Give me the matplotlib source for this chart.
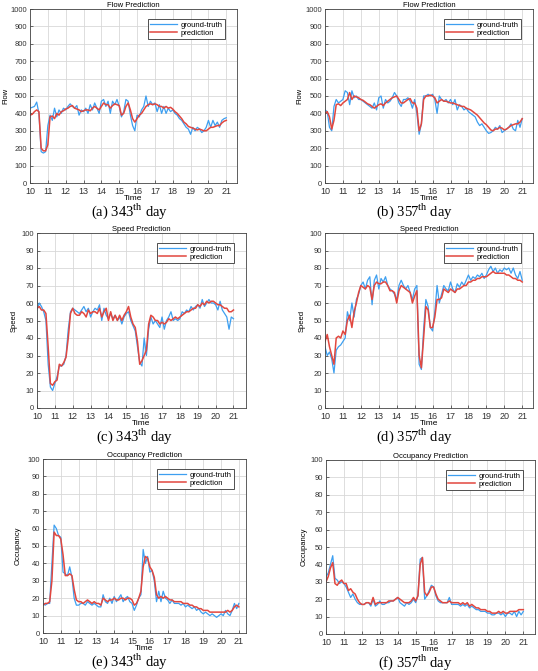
import numpy as np
import matplotlib
matplotlib.use("Agg")
import matplotlib.pyplot as plt

plt.rcParams['font.family'] = ['Liberation Sans', 'DejaVu Sans']
plt.rcParams['mathtext.fontset'] = 'custom'
plt.rcParams['mathtext.rm'] = 'Liberation Serif'

# values every 7.5 minutes, 10:00 .. 21:00
flow_343_true = [430, 435, 440, 465, 400, 180, 172, 180,
                 330, 390, 360, 430, 380, 420, 400, 430,
                 420, 440, 455, 440, 430, 445, 390, 420,
                 410, 430, 400, 450, 420, 460, 430, 400,
                 470, 480, 440, 470, 400, 470, 450, 480,
                 440, 380, 410, 480, 470, 390, 330, 300,
                 390, 380, 420, 440, 500, 440, 470, 450,
                 460, 410, 450, 400, 440, 400, 430, 410,
                 420, 400, 390, 370, 360, 340, 320, 310,
                 280, 320, 300, 320, 310, 290, 300, 320,
                 360, 320, 360, 330, 350, 320, 360, 370,
                 375]
flow_343_pred = [390, 395, 410, 420, 410, 200, 185, 185,
                 220, 380, 385, 370, 400, 390, 410, 415,
                 425, 430, 440, 445, 430, 425, 420, 410,
                 415, 420, 420, 415, 430, 440, 430, 420,
                 440, 460, 450, 450, 430, 445, 455, 450,
                 445, 390, 400, 440, 460, 420, 370, 350,
                 370, 390, 400, 420, 440, 450, 455, 450,
                 455, 450, 440, 440, 430, 440, 430, 435,
                 425, 410, 400, 385, 370, 350, 340, 325,
                 320, 315, 310, 305, 310, 305, 300, 300,
                 310, 320, 320, 325, 330, 330, 345, 355,
                 360]
flow_357_true = [420, 410, 320, 300, 440, 480, 460, 470,
                 480, 530, 520, 450, 530, 490, 500, 480,
                 480, 470, 460, 450, 440, 430, 460, 420,
                 490, 500, 430, 480, 460, 470, 490, 520,
                 500, 460, 440, 480, 480, 490, 470, 430,
                 480, 400, 280, 340, 500, 500, 510, 500,
                 510, 480, 400, 500, 480, 470, 480, 460,
                 480, 450, 480, 420, 450, 440, 420, 430,
                 410, 400, 390, 380, 350, 330, 340, 320,
                 300, 285, 290, 300, 320, 310, 330, 290,
                 300, 310, 320, 340, 310, 300, 360, 320,
                 370]
flow_357_pred = [400, 410, 380, 310, 360, 450, 455, 445,
                 460, 470, 480, 520, 480, 500, 495, 490,
                 480, 475, 465, 455, 450, 440, 430, 440,
                 450, 455, 445, 460, 470, 480, 490, 495,
                 500, 480, 460, 460, 470, 480, 485, 460,
                 460, 430, 300, 340, 480, 500, 500, 505,
                 500, 490, 460, 470, 480, 470, 470, 465,
                 460, 460, 455, 450, 445, 440, 440, 430,
                 425, 420, 410, 400, 390, 375, 360, 345,
                 335, 320, 305, 300, 310, 310, 320, 315,
                 305, 310, 320, 330, 335, 340, 340, 350,
                 370]

speed_343_true = [56, 60, 58, 55, 50, 25, 12, 10,
                  14, 18, 24, 24, 25, 30, 45, 55,
                  57, 56, 55, 54, 56, 58, 55, 57,
                  52, 55, 57, 56, 59, 50, 57, 53,
                  51, 54, 51, 53, 50, 52, 48, 52,
                  54, 55, 50, 47, 44, 35, 26, 24,
                  40, 30, 45, 52, 48, 50, 48, 46,
                  52, 45, 50, 52, 55, 50, 51, 50,
                  51, 55, 54, 56, 55, 58, 56, 58,
                  59, 57, 62, 58, 60, 62, 60, 60,
                  59, 56, 61, 56, 54, 52, 45, 52,
                  51]
speed_343_pred = [57, 58, 56, 56, 54, 35, 14, 13,
                  15, 16, 25, 24, 26, 29, 40, 54,
                  57, 54, 53, 53, 55, 54, 52, 56,
                  54, 55, 55, 54, 57, 52, 55, 57,
                  50, 55, 50, 53, 50, 53, 50, 53,
                  55, 58, 52, 48, 46, 38, 25, 27,
                  30, 33, 48, 53, 52, 50, 50, 48,
                  49, 48, 49, 51, 50, 51, 52, 51,
                  52, 53, 54, 55, 55, 56, 57, 57,
                  59, 58, 60, 59, 61, 60, 61, 61,
                  60, 59, 59, 58, 57, 57, 55, 55,
                  56]
speed_357_true = [35, 30, 32, 28, 20, 33, 35, 36,
                  38, 40, 55, 50, 60, 52, 62, 65,
                  70, 72, 68, 73, 75, 59, 73, 76,
                  68, 74, 72, 75, 70, 68, 67, 65,
                  62, 70, 73, 70, 68, 70, 66, 62,
                  68, 70, 25, 22, 45, 62, 58, 46,
                  44, 55, 70, 60, 65, 70, 68, 67,
                  72, 68, 66, 71, 69, 72, 70, 73,
                  76, 73, 75, 74, 76, 75, 77, 74,
                  76, 79, 81, 78, 80, 77, 79, 78,
                  80, 79, 80, 77, 80, 76, 74, 78,
                  73]
speed_357_pred = [38, 42, 35, 30, 25, 40, 41, 40,
                  44, 42, 50, 53, 46, 55, 60, 66,
                  70, 69, 68, 70, 69, 62, 70, 72,
                  71, 71, 72, 72, 70, 67, 67, 66,
                  60, 67, 70, 69, 68, 67, 66, 60,
                  64, 67, 30, 23, 40, 58, 56, 46,
                  46, 52, 62, 62, 63, 68, 67, 66,
                  68, 67, 66, 68, 68, 69, 70, 70,
                  72, 72, 73, 73, 74, 74, 75, 75,
                  75, 76, 77, 78, 77, 77, 77, 77,
                  77, 76, 76, 75, 74, 74, 73, 73,
                  72]

occ_343_true = [17, 16, 17, 17, 40, 62, 60, 56,
                55, 35, 34, 33, 38, 32, 20, 16,
                16, 17, 17, 16, 18, 17, 16, 17,
                16, 15, 15, 22, 18, 17, 20, 17,
                21, 18, 20, 22, 18, 20, 21, 18,
                17, 13, 16, 20, 22, 48, 40, 44,
                35, 36, 30, 18, 24, 18, 24, 20,
                19, 17, 19, 17, 17, 17, 16, 17,
                15, 16, 15, 14, 15, 13, 14, 12,
                11, 12, 11, 10, 11, 10, 9, 10,
                11, 10, 13, 11, 10, 13, 17, 14,
                17]
occ_343_pred = [16, 17, 17, 18, 30, 58, 56, 56,
                54, 45, 33, 33, 34, 33, 25, 19,
                18, 18, 17, 18, 19, 18, 17, 18,
                17, 17, 16, 20, 19, 18, 19, 19,
                20, 19, 19, 20, 20, 19, 20, 20,
                19, 16, 17, 20, 24, 38, 44, 43,
                38, 36, 32, 22, 20, 21, 20, 21,
                20, 19, 19, 18, 18, 18, 18, 17,
                17, 17, 16, 16, 15, 15, 14, 14,
                13, 13, 13, 12, 12, 12, 12, 12,
                12, 12, 12, 13, 12, 13, 15, 16,
                15]
occ_357_true = [33, 35, 40, 45, 32, 31, 29, 30,
                29, 27, 24, 21, 23, 20, 18, 17,
                17, 17, 18, 18, 16, 20, 16, 17,
                19, 17, 17, 18, 18, 19, 19, 20,
                21, 18, 17, 16, 18, 17, 18, 20,
                18, 22, 43, 44, 20, 22, 25, 28,
                27, 22, 19, 18, 18, 18, 18, 21,
                17, 17, 17, 17, 16, 17, 16, 17,
                15, 16, 15, 14, 14, 13, 13, 13,
                12, 12, 11, 11, 12, 12, 11, 12,
                10, 12, 12, 11, 13, 10, 13, 11,
                13]
occ_357_pred = [30, 33, 38, 41, 29, 28, 30, 31,
                29, 29, 25, 26, 24, 23, 20, 18,
                17, 17, 18, 18, 17, 21, 17, 18,
                18, 18, 18, 18, 19, 19, 19, 20,
                21, 20, 19, 18, 18, 18, 19, 21,
                19, 22, 40, 44, 24, 22, 24, 27,
                27, 23, 20, 19, 18, 18, 18, 19,
                18, 18, 18, 18, 17, 18, 17, 18,
                16, 17, 16, 15, 15, 14, 14, 14,
                13, 13, 12, 12, 12, 13, 12, 13,
                12, 12, 13, 13, 13, 13, 14, 14,
                14]

panels = [
    ("Flow Prediction", "Flow", flow_343_true, flow_343_pred, 1000, 100, "(a) 343", 21.6),
    ("Flow Prediction", "Flow", flow_357_true, flow_357_pred, 1000, 100, "(b) 357", 21.6),
    ("Speed Prediction", "Speed", speed_343_true, speed_343_pred, 100, 10, "(c) 343", 21.7),
    ("Speed Prediction", "Speed", speed_357_true, speed_357_pred, 100, 10, "(d) 357", 21.6),
    ("Occupancy Prediction", "Occupancy", occ_343_true, occ_343_pred, 100, 10, "(e) 343", 21.4),
    ("Occupancy Prediction", "Occupancy", occ_357_true, occ_357_pred, 100, 10, "(f) 357", 21.65),
]

# axes boxes in pixels: left, top, right, bottom, y-label centre x, caption centre x
boxes = [(30, 9, 237, 183, 6, 130), (325, 9, 533, 183, 300, 415),
         (37, 233, 246, 408, 15, 135), (325, 233, 533, 408, 303, 415),
         (43, 459, 246, 633, 19, 130), (326, 460, 535, 634, 305, 415)]

W, H = 538, 671
fig = plt.figure(figsize=(W / 100, H / 100), dpi=100)

blue = '#3d9ff0'
red = '#e2473f'

for (title, ylab, yt, yp, ymax, ystep, cap, xmax), (l, t, r, b, yl, cx) in zip(panels, boxes):
    ax = fig.add_axes([l / W, 1 - b / H, (r - l) / W, (b - t) / H])
    x_t = np.linspace(10, 21, len(yt))
    x_p = np.linspace(10, 21, len(yp))
    ax.plot(x_t, yt, color=blue, lw=0.9, label='ground-truth')
    ax.plot(x_p, yp, color=red, lw=1.1, label='prediction')
    ax.set_xlim(10, xmax)
    ax.set_ylim(0, ymax)
    ax.set_xticks(range(10, 22))
    ax.set_yticks(np.arange(0, ymax + 1, ystep))
    ax.grid(True, color='#d8d8d8', lw=0.6)
    ax.set_axisbelow(True)
    ax.tick_params(direction='in', length=2, width=0.5, labelsize=5.5, pad=2,
                   colors='#333333')
    ax.tick_params(axis='x', labelsize=6.5, pad=3)
    for s in ax.spines.values():
        s.set_linewidth(0.6)
        s.set_color('#444444')
    ax.set_title(title, fontsize=5.5, pad=1.5)
    ax.set_ylabel(ylab, fontsize=5.5)
    ax.yaxis.set_label_coords((yl + 3 - l) / (r - l), 0.5)
    ax.set_xlabel('Time', fontsize=6, labelpad=-1)
    leg = ax.legend(loc='upper right', bbox_to_anchor=(0.96, 0.965), fontsize=5.5,
                    handlelength=3.5, handletextpad=0.5, borderpad=0.3,
                    labelspacing=0.15, fancybox=False, framealpha=1)
    leg.get_frame().set_edgecolor('#333333')
    leg.get_frame().set_linewidth(0.6)
    fig.text(cx / W, 1 - (b + 38) / H, cap + r'$^{\rm th}$ day', ha='center',
             va='bottom', fontsize=10.5, family='Liberation Serif')

fig.savefig('out.png', dpi=100)
